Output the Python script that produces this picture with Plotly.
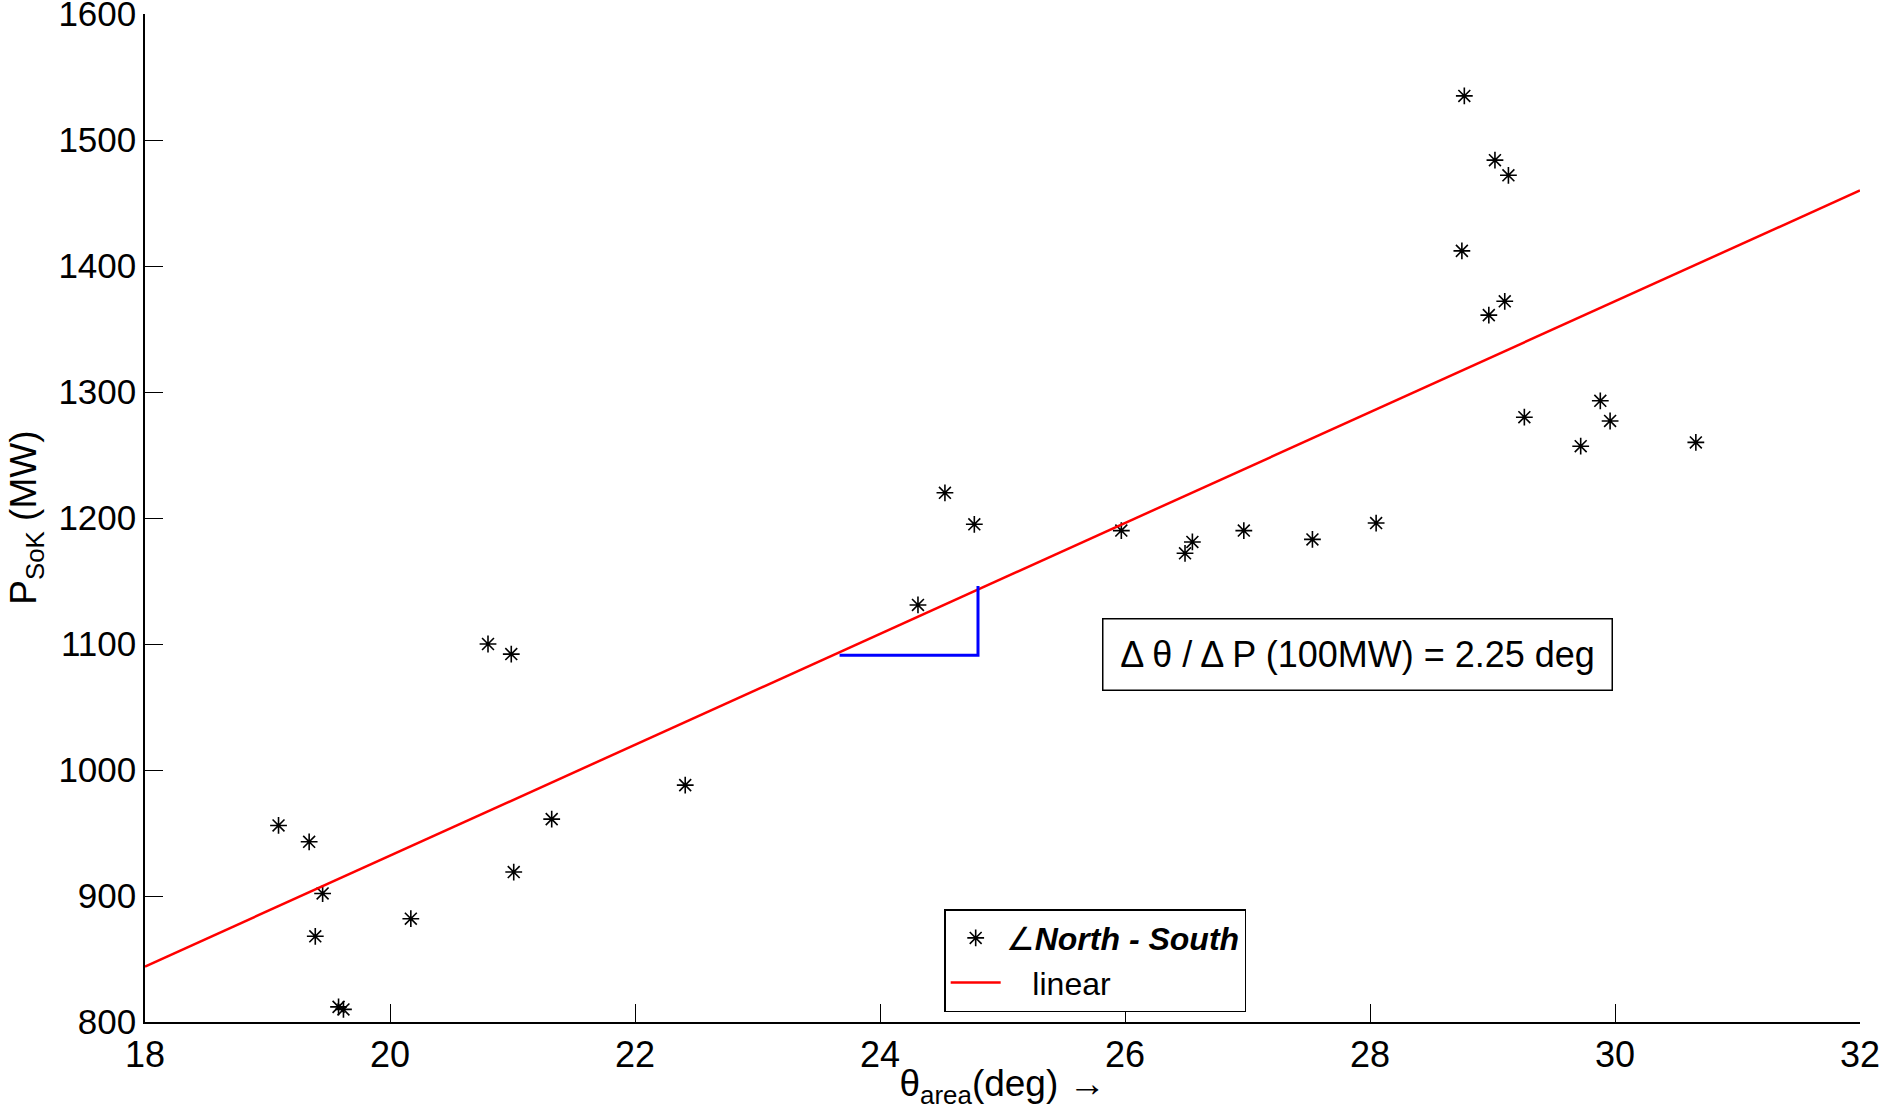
import plotly.graph_objects as go

# Data
theta = [19.09, 19.34, 19.45, 19.39, 19.58, 19.62, 20.17, 20.80, 20.99, 21.01,
         21.32, 22.41, 24.31, 24.53, 24.77, 25.97, 26.49, 26.55, 26.97, 27.53,
         28.05, 28.77, 28.75, 29.02, 29.13, 29.10, 28.97, 29.26, 29.72, 29.88,
         29.96, 30.66]
power = [956, 943, 902, 868, 812, 810, 882, 1100, 1092, 919,
         961, 988, 1131, 1220, 1195, 1190, 1172, 1181, 1190, 1183,
         1196, 1535, 1412, 1484, 1472, 1372, 1361, 1280, 1257, 1293,
         1277, 1260]

fit_x = [18, 32]
fit_y = [844, 1460]

tri_x = [23.67, 24.80, 24.80]
tri_y = [1091, 1091, 1146]

x_ticks = [18, 20, 22, 24, 26, 28, 30, 32]
y_ticks = [800, 900, 1000, 1100, 1200, 1300, 1400, 1500, 1600]

FONT = "Arial, Liberation Sans, Helvetica, sans-serif"

fig = go.Figure()
fig.add_trace(go.Scatter(
    x=theta, y=power, mode="markers",
    name="∠<b><i>North - South</i></b>",
    marker=dict(symbol="asterisk-open", size=14, color="black",
                line=dict(color="black", width=1.6)),
))
fig.add_trace(go.Scatter(
    x=fit_x, y=fit_y, mode="lines", name="   linear",
    line=dict(color="red", width=2.5),
))
fig.add_trace(go.Scatter(
    x=tri_x, y=tri_y, mode="lines", showlegend=False,
    line=dict(color="blue", width=3),
))

fig.add_annotation(
    x=27.9, y=1092, xref="x", yref="y",
    text="Δ θ / Δ P (100MW) = 2.25 deg", showarrow=False,
    font=dict(family=FONT, size=36, color="black"),
    width=500, height=62, align="center",
    bordercolor="black", borderwidth=1.5, borderpad=4, bgcolor="white",
)

# y-axis title as a rotated annotation so it can sit at the far left
fig.add_annotation(
    x=-0.0695, y=0.5, xref="paper", yref="paper",
    xanchor="center", yanchor="middle", textangle=-90,
    text="P<sub>SoK</sub> (MW)", showarrow=False,
    font=dict(family=FONT, size=37, color="black"),
)

fig.update_layout(
    width=1883, height=1109,
    margin=dict(l=145, r=23, t=14, b=87, autoexpand=False),
    paper_bgcolor="white", plot_bgcolor="white",
    font=dict(family=FONT, size=36, color="black"),
    showlegend=True,
    legend=dict(
        x=0.466, y=0.112, xanchor="left", yanchor="top",
        bgcolor="white", bordercolor="black", borderwidth=1.5,
        font=dict(family=FONT, size=32, color="black"),
        tracegroupgap=0, itemwidth=50,
    ),
    xaxis=dict(
        range=[18, 32], tickvals=x_ticks, ticktext=[str(v) for v in x_ticks],
        showgrid=False, zeroline=False, showline=True, linecolor="black",
        linewidth=1.5, ticks="inside", ticklen=18, tickcolor="black",
        mirror=False, automargin=False, ticklabeloverflow="allow",
        title=dict(text="θ<sub>area</sub>(deg) →", standoff=4,
                   font=dict(family=FONT, size=37)),
        tickfont=dict(family=FONT, size=36),
    ),
    yaxis=dict(
        range=[800, 1600], tickvals=y_ticks, ticktext=[str(v) for v in y_ticks],
        showgrid=False, zeroline=False, showline=True, linecolor="black",
        linewidth=1.5, ticks="inside", ticklen=18, tickcolor="black",
        mirror=False, automargin=False, ticklabeloverflow="allow",
        tickfont=dict(family=FONT, size=35),
    ),
)

fig.write_html("out.html", config={"displayModeBar": False})
